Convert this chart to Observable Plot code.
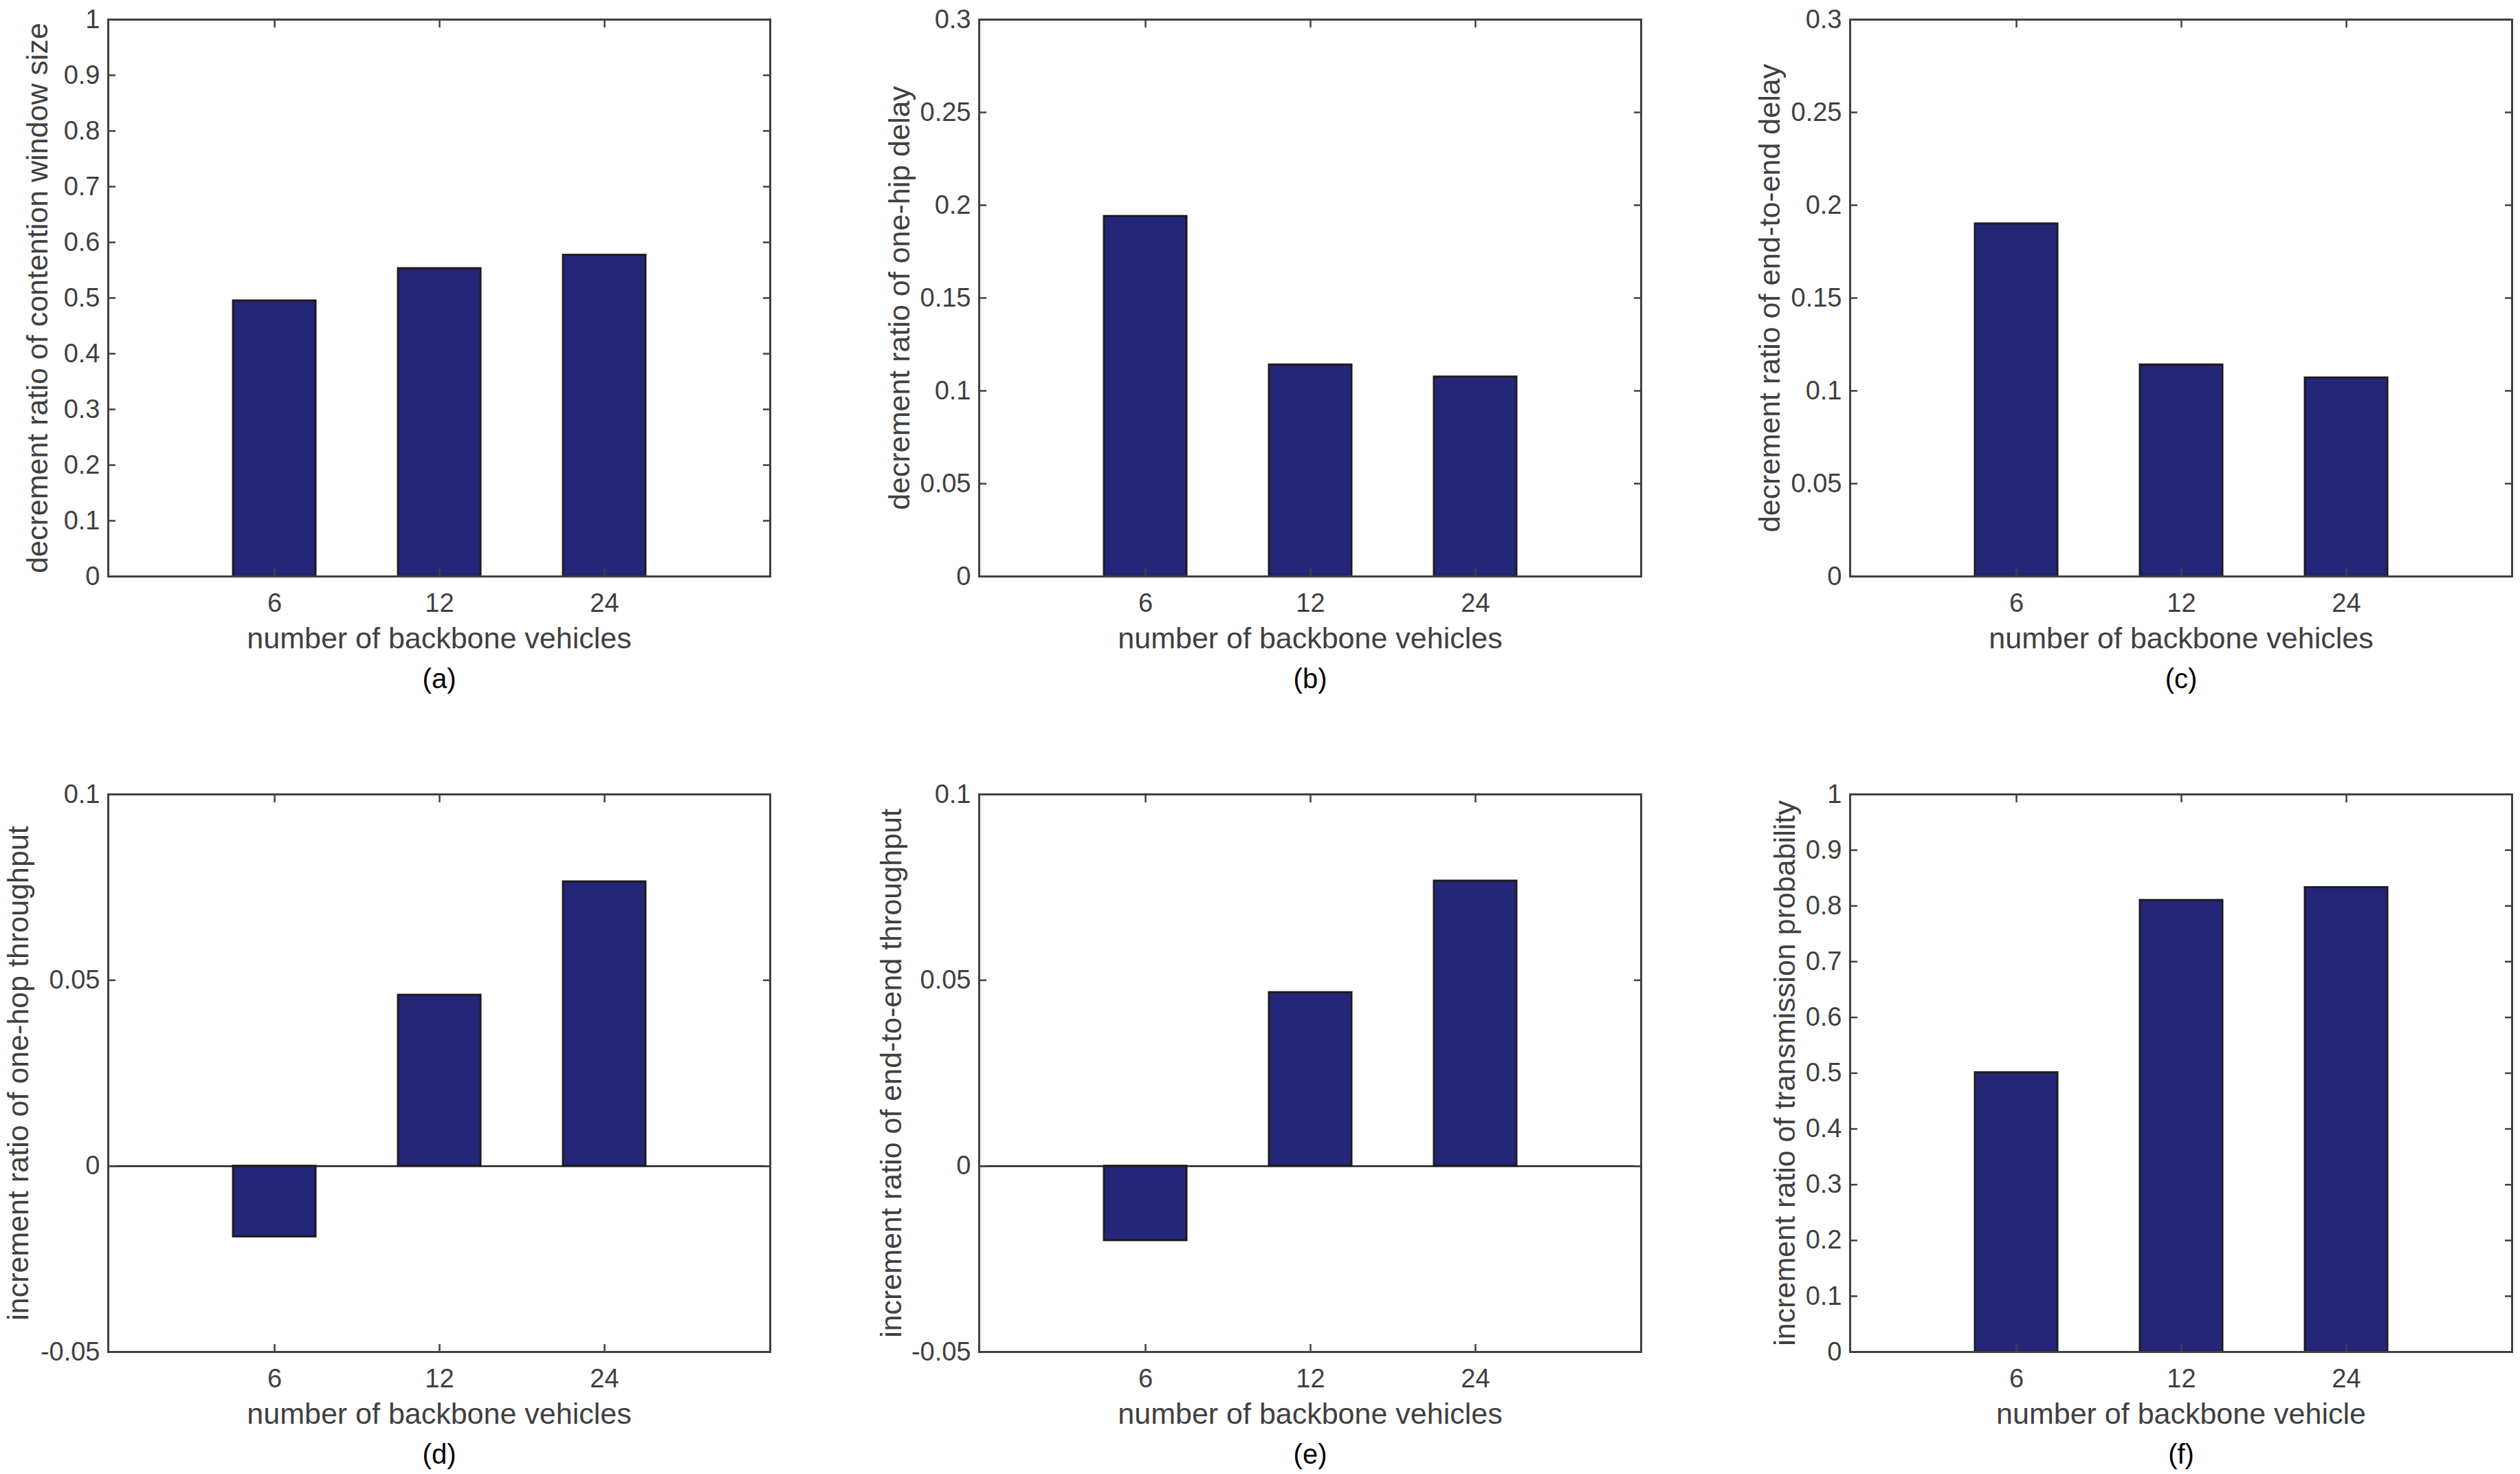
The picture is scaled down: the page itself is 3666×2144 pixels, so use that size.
<!DOCTYPE html>
<html><head><meta charset="utf-8">
<script src="https://cdn.jsdelivr.net/npm/d3@7"></script>
<script src="https://cdn.jsdelivr.net/npm/@observablehq/plot@0.6"></script>
<style>
html,body{margin:0;padding:0;background:#fff;}
#grid{display:grid;grid-template-columns:repeat(3,1222px);grid-template-rows:repeat(2,1072px);width:3666px;height:2144px;}
#grid svg{display:block;}
</style></head><body><div id="grid"></div>
<script>
// ---- data ----
const categories = ["6", "12", "24"];
const valuesA = [0.495, 0.553, 0.577];
const valuesB = [0.194, 0.114, 0.1075];
const valuesC = [0.190, 0.114, 0.107];
const valuesD = [-0.019, 0.046, 0.0765];
const valuesE = [-0.020, 0.0467, 0.0767];
const valuesF = [0.501, 0.810, 0.833];

const ticksUnit = [0, 0.1, 0.2, 0.3, 0.4, 0.5, 0.6, 0.7, 0.8, 0.9, 1];
const ticksDelay = [0, 0.05, 0.1, 0.15, 0.2, 0.25, 0.3];
const ticksThroughput = [-0.05, 0, 0.05, 0.1];

const yLabels = [
  "decrement ratio of contention window size",
  "decrement ratio of one-hip delay",
  "decrement ratio of end-to-end delay",
  "increment ratio of one-hop throughput",
  "increment ratio of end-to-end throughput",
  "increment ratio of transmission probability"
];
const xLabels = [
  "number of backbone vehicles", "number of backbone vehicles", "number of backbone vehicles",
  "number of backbone vehicles", "number of backbone vehicles", "number of backbone vehicle"
];
const panelTags = ["(a)", "(b)", "(c)", "(d)", "(e)", "(f)"];

// ---- layout ----
const W = 1222, H = 1072;
const colMargins = [[157, 102], [202, 57], [247, 12]];
const rowMargins = [[28, 234], [83, 178]];
const yLabelOffsets = [102, 115, 116, 130, 127, 94];

const panels = [
  {values: valuesA, domain: [0, 1], ticks: ticksUnit},
  {values: valuesB, domain: [0, 0.3], ticks: ticksDelay},
  {values: valuesC, domain: [0, 0.3], ticks: ticksDelay},
  {values: valuesD, domain: [-0.05, 0.1], ticks: ticksThroughput, zero: true},
  {values: valuesE, domain: [-0.05, 0.1], ticks: ticksThroughput, zero: true},
  {values: valuesF, domain: [0, 1], ticks: ticksUnit}
];

const AXIS = "#404040";
const FONT = "'Liberation Sans', Arial, Helvetica, sans-serif";
const grid = document.getElementById("grid");

panels.forEach((p, i) => {
  const col = i % 3, row = Math.floor(i / 3);
  const data = categories.map((c, j) => ({cat: c, value: p.values[j]}));
  const chart = Plot.plot({
    width: W, height: H,
    marginLeft: colMargins[col][0], marginRight: colMargins[col][1],
    marginTop: rowMargins[row][0], marginBottom: rowMargins[row][1],
    style: {fontFamily: FONT, color: AXIS, background: "white"},
    x: {type: "band", domain: categories, paddingInner: 0.5, paddingOuter: 0.75, axis: null},
    y: {domain: p.domain, axis: null},
    marks: [
      Plot.barY(data, {x: "cat", y: "value", fill: "#24267a", stroke: "#1f1b1d", strokeWidth: 3}),
      p.zero ? Plot.ruleY([0], {stroke: "#1f1b1d", strokeWidth: 2.5}) : null,
      Plot.axisY(p.ticks, {anchor: "left", tickSize: -11, tickFormat: () => "", label: null, strokeWidth: 2.5}),
      Plot.axisY(p.ticks, {anchor: "right", tickSize: -11, tickFormat: () => "", label: null, strokeWidth: 2.5}),
      Plot.axisX({anchor: "bottom", tickSize: -11, tickFormat: () => "", label: null, strokeWidth: 2.5}),
      Plot.axisX({anchor: "top", tickSize: -11, tickFormat: () => "", label: null, strokeWidth: 2.5}),
      Plot.frame({stroke: AXIS, strokeWidth: 3}),
      Plot.text(p.ticks, {y: d => d, text: d => String(d), frameAnchor: "left", textAnchor: "end", lineAnchor: "middle", dx: -12, fontSize: 38, fill: AXIS}),
      Plot.text(categories, {x: d => d, text: d => d, frameAnchor: "bottom", textAnchor: "middle", lineAnchor: "middle", dy: 39, fontSize: 38, fill: AXIS}),
      Plot.text([xLabels[i]], {text: d => d, frameAnchor: "bottom", textAnchor: "middle", lineAnchor: "middle", dy: 91, fontSize: 43, fill: AXIS}),
      Plot.text([panelTags[i]], {text: d => d, frameAnchor: "bottom", textAnchor: "middle", lineAnchor: "middle", dy: 150, fontSize: 40, fill: "black"}),
      Plot.text([yLabels[i]], {text: d => d, frameAnchor: "left", textAnchor: "middle", lineAnchor: "middle", dx: -yLabelOffsets[i], rotate: -90, fontSize: 43, fill: AXIS})
    ]
  });
  grid.appendChild(chart);
});
</script></body></html>
